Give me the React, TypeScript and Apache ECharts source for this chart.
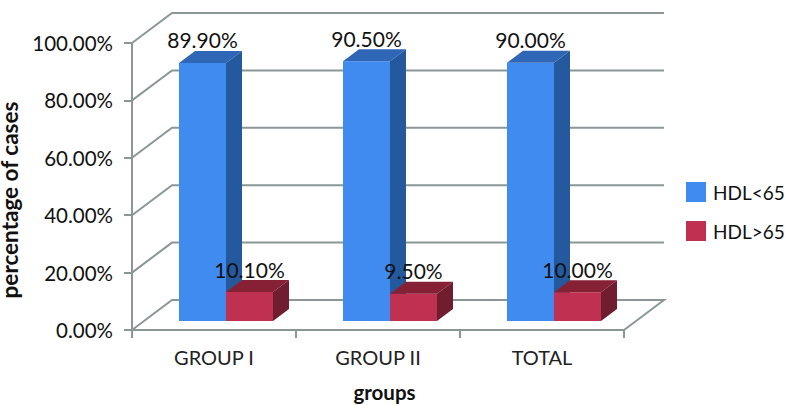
import React, { useEffect, useRef } from "react";
import * as echarts from "echarts";

const categories = ["GROUP I", "GROUP II", "TOTAL"];
const hdlBelow = [89.9, 90.5, 90.0];
const hdlAbove = [10.1, 9.5, 10.0];
const belowLabels = ["89.90%", "90.50%", "90.00%"];
const aboveLabels = ["10.10%", "9.50%", "10.00%"];
const gridTicks = [0, 20, 40, 60, 80, 100];

const FONT = "Lato";
const GRAY = "#8b9797";
const WALL_DX = 40;
const WALL_DY = -30;
const BAR_W = 47;
const BAR_OFF_X = 12;
const BAR_OFF_Y = -9;
const DEPTH_X = 16;
const DEPTH_Y = -12;

const poly = (points: number[][], fill: string) => ({
  type: "polygon",
  shape: { points },
  style: { fill, stroke: "none" },
  silent: true,
});

function barRenderer(
  side: "left" | "right",
  labels: string[],
  front: string,
  top: string,
  right: string
) {
  return (params: any, api: any) => {
    const idx = api.value(0);
    const val = api.value(1);
    const [cx, yTop] = api.coord([idx, val]);
    const [, yBase] = api.coord([idx, 0]);
    const x0 = cx + BAR_OFF_X + (side === "left" ? -BAR_W : 0);
    const x1 = x0 + BAR_W;
    const y0 = yBase + BAR_OFF_Y;
    const y1 = yTop + BAR_OFF_Y;
    return {
      type: "group",
      children: [
        poly(
          [
            [x0, y0],
            [x1, y0],
            [x1, y1],
            [x0, y1],
          ],
          front
        ),
        poly(
          [
            [x0, y1],
            [x1, y1],
            [x1 + DEPTH_X, y1 + DEPTH_Y],
            [x0 + DEPTH_X, y1 + DEPTH_Y],
          ],
          top
        ),
        poly(
          [
            [x1, y0],
            [x1 + DEPTH_X, y0 + DEPTH_Y],
            [x1 + DEPTH_X, y1 + DEPTH_Y],
            [x1, y1],
          ],
          right
        ),
        {
          type: "text",
          z2: 50,
          silent: true,
          style: {
            x: (x0 + x1) / 2,
            y: y1 - 23,
            text: labels[idx],
            fill: "#111",
            font: `21px ${FONT}`,
            align: "center",
            verticalAlign: "middle",
          },
        },
      ],
    };
  };
}

function wallRenderer(params: any, api: any) {
  const v = api.value(1);
  const [, y] = api.coord([0, v]);
  const cs = params.coordSys;
  const points =
    v === 0
      ? [
          [cs.x, y],
          [cs.x + WALL_DX, y + WALL_DY],
          [cs.x + cs.width + WALL_DX, y + WALL_DY],
          [cs.x + cs.width, y],
        ]
      : [
          [cs.x, y],
          [cs.x + WALL_DX, y + WALL_DY],
          [cs.x + cs.width + WALL_DX, y + WALL_DY],
        ];
  return {
    type: "polyline",
    shape: { points },
    style: { stroke: GRAY, lineWidth: 2, fill: "none" },
    silent: true,
  };
}

export default function App() {
  const ref = useRef<HTMLDivElement>(null);
  useEffect(() => {
    document.body.style.margin = "0";
    const chart = echarts.init(ref.current!, undefined, { renderer: "svg" });
    chart.setOption({
      animation: false,
      backgroundColor: "#fff",
      textStyle: { fontFamily: FONT },
      grid: { left: 132, right: 162, top: 43, bottom: 75, containLabel: false, outerBoundsMode: "none" },
      legend: {
        orient: "vertical",
        left: 686,
        top: 182,
        padding: 0,
        itemWidth: 20,
        itemHeight: 20,
        itemGap: 19,
        icon: "rect",
        selectedMode: false,
        data: ["HDL<65", "HDL>65"],
        textStyle: { fontFamily: FONT, fontSize: 19, color: "#111", padding: [0, 0, 0, 2] },
      },
      xAxis: {
        type: "category",
        data: categories,
        name: "groups",
        nameLocation: "middle",
        nameGap: 51,
        nameTextStyle: {
          fontFamily: FONT,
          fontSize: 20.5,
          fontWeight: "bold",
          color: "#111",
          padding: [0, 0, 0, 13],
        },
        axisLine: { lineStyle: { color: GRAY, width: 2 } },
        axisTick: { show: true, length: 8, alignWithLabel: false, lineStyle: { color: GRAY, width: 2 } },
        axisLabel: { fontFamily: FONT, fontSize: 20, color: "#222", margin: 17 },
        splitLine: { show: false },
      },
      yAxis: {
        type: "value",
        min: 0,
        max: 100,
        interval: 20,
        name: "percentage of cases",
        nameLocation: "middle",
        nameGap: 110,
        nameRotate: 90,
        nameTextStyle: {
          fontFamily: FONT,
          fontSize: 22.5,
          fontWeight: "bold",
          color: "#111",
          padding: [0, 27, 0, 0],
        },
        axisLine: { show: true, lineStyle: { color: GRAY, width: 2 } },
        axisTick: { show: true, length: 8, lineStyle: { color: GRAY, width: 2 } },
        axisLabel: {
          fontFamily: FONT,
          fontSize: 20.5,
          color: "#111",
          margin: 19,
          formatter: (v: number) => `${v.toFixed(2)}%`,
        },
        splitLine: { show: false },
      },
      series: [
        {
          type: "custom",
          name: "walls",
          z: 1,
          clip: false,
          silent: true,
          renderItem: wallRenderer,
          data: gridTicks.map((v) => [0, v]),
          encode: { x: 0, y: 1 },
        },
        {
          type: "custom",
          name: "HDL<65",
          z: 2,
          clip: false,
          itemStyle: { color: "#3f8bf0" },
          renderItem: barRenderer("left", belowLabels, "#3f8bf0", "#2f66b6", "#25599e"),
          data: hdlBelow.map((v, i) => [i, v]),
          encode: { x: 0, y: 1 },
        },
        {
          type: "custom",
          name: "HDL>65",
          z: 3,
          clip: false,
          itemStyle: { color: "#c03050" },
          renderItem: barRenderer("right", aboveLabels, "#c03050", "#862035", "#6f1d2f"),
          data: hdlAbove.map((v, i) => [i, v]),
          encode: { x: 0, y: 1 },
        },
      ],
    });
    return () => chart.dispose();
  }, []);
  return <div ref={ref} style={{ width: 786, height: 405 }} />;
}
